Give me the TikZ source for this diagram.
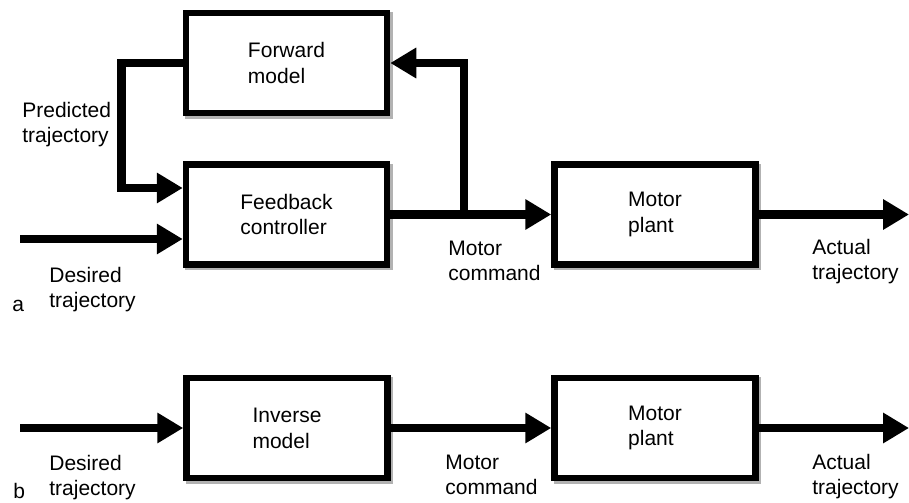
\documentclass[tikz,border=0pt]{standalone}
\usepackage{fontspec}
\setmainfont{Liberation Sans}
\usetikzlibrary{arrows.meta, calc}
\tikzset{
  blk/.style={draw, line width=1.3mm, fill=white, minimum width=40.2mm, minimum height=20mm,
    inner sep=0pt, align=left, font=\fontsize{11.95pt}{14.7pt}\selectfont,
    preaction={draw=black!30, transform canvas={xshift=0.5mm, yshift=-0.5mm}}},
  flw/.style={line width=1.7mm, -{Triangle[length=5.2mm, width=5.8mm]}},
  lab/.style={anchor=base west, align=left, inner sep=0pt, font=\fontsize{11.95pt}{14.2pt}\selectfont}
}

\begin{document}
\begin{tikzpicture}[x=0.2mm, y=-0.2mm]
		\useasboundingbox (0,0) rectangle (909,503);
		% (a) feedback control with forward model
		\node[blk] (fwd) at (286.5,63) {Forward\\model};
		\node[blk] (fb) at (286.5,214.5) {Feedback\\controller};
		\node[blk] (plant) at (655,214.5) {Motor\\plant};
		\coordinate (din) at (20,239);
		\coordinate (br) at (464,214.5);
		\coordinate (aout) at (909,214.5);
		\draw[flw] (fwd.west) -- ++(-61,0) |- ($(fb.west)+(0,-26.5)$);
		\draw[flw] (din) -- (din -| fb.west);
		\draw[flw] (fb.east) -- (plant.west);
		\draw[flw] (br) |- (fwd.east);
		\draw[flw] (plant.east) -- (aout);
		% labels, anchored at the baseline of the last line
		\node[lab] (pred) at (22,142) {Predicted\\trajectory};
		\node[lab] (des) at (49,307) {Desired\\trajectory};
		\node[lab] (cmd) at (448,280) {Motor\\command};
		\node[lab] (act) at (812,279) {Actual\\trajectory};
		\node[lab] (pa) at (12,311) {a};
		% (b) inverse model
		\node[blk] (inv) at (287,428) {Inverse\\model};
		\node[blk] (plantb) at (655,428) {Motor\\plant};
		\coordinate (dinb) at (20,428);
		\coordinate (aoutb) at (909,428);
		\draw[flw] (dinb) -- (inv.west);
		\draw[flw] (inv.east) -- (plantb.west);
		\draw[flw] (plantb.east) -- (aoutb);
		\node[lab] (desb) at (49,495) {Desired\\trajectory};
		\node[lab] (cmdb) at (445,494) {Motor\\command};
		\node[lab] (actb) at (812,494) {Actual\\trajectory};
		\node[lab] (pb) at (13,498) {b};
	\end{tikzpicture}
\end{document}
